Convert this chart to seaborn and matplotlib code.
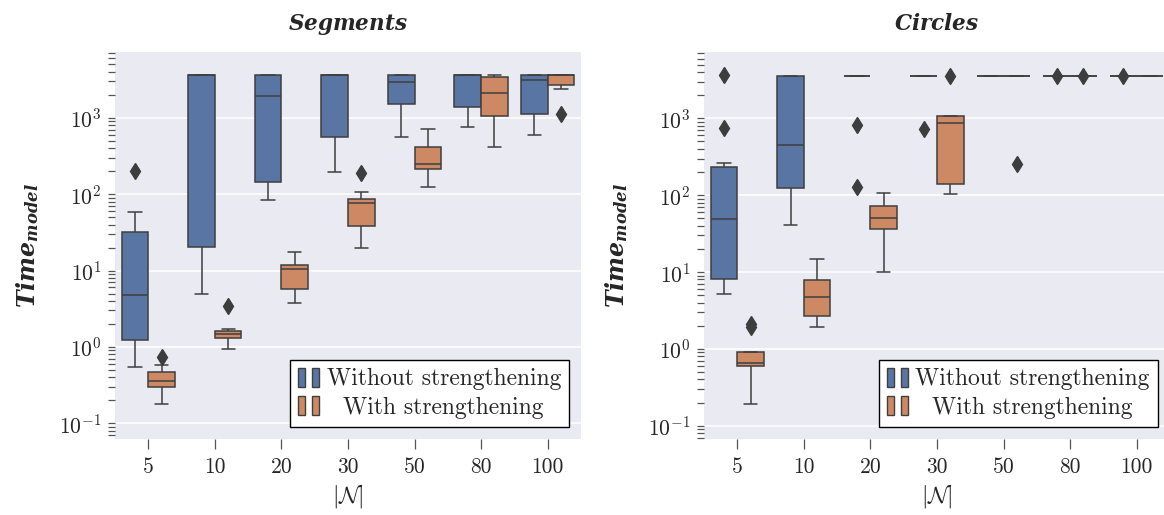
import numpy as np
import pandas as pd
import matplotlib
matplotlib.use("Agg")
import matplotlib.pyplot as plt
import seaborn as sns
from matplotlib.patches import Patch
from matplotlib.legend_handler import HandlerTuple

# ---------------------------------------------------------------- data
N_VALUES = [5, 10, 20, 30, 50, 80, 100]
HUES = ["Without strengthening", "With strengthening"]
PANELS = ["Segments", "Circles"]

# box summaries per |N|: [whisker low, Q1, median, Q3, whisker high]
seg_without = [
    [0.55, 1.23, 4.85, 31.5, 58.7],
    [5.0, 20.4, 3600, 3600, 3600],
    [83.4, 145, 1900, 3600, 3600],
    [192, 564, 3600, 3600, 3600],
    [564, 1525, 2905, 3600, 3600],
    [762, 1379, 3600, 3600, 3600],
    [599, 1106, 3110, 3600, 3600],
]
seg_without_fliers = [[202], [], [], [], [], [], []]

seg_with = [
    [0.177, 0.301, 0.357, 0.464, 0.573],
    [0.93, 1.32, 1.46, 1.61, 1.71],
    [3.78, 5.76, 10.4, 11.7, 17.5],
    [20.0, 38.1, 75.5, 86.9, 106],
    [125, 213, 247, 417, 710],
    [417, 1062, 2128, 3377, 3600],
    [2400, 2700, 3600, 3600, 3600],
]
seg_with_fliers = [[0.743], [3.45], [], [190], [], [], [1128]]

circ_without = [
    [5.12, 8.03, 49.1, 234, 261],
    [41.4, 123, 449, 3600, 3600],
    [3600, 3600, 3600, 3600, 3600],
    [3600, 3600, 3600, 3600, 3600],
    [3600, 3600, 3600, 3600, 3600],
    [3600, 3600, 3600, 3600, 3600],
    [3600, 3600, 3600, 3600, 3600],
]
circ_without_fliers = [[755, 3640], [], [128, 811], [720], [], [3610], [3610]]

circ_with = [
    [0.19, 0.598, 0.647, 0.9, 0.918],
    [1.91, 2.65, 4.73, 7.95, 14.8],
    [10.1, 36.4, 51.2, 72.6, 106],
    [105, 139, 860, 1073, 1073],
    [3600, 3600, 3600, 3600, 3600],
    [3600, 3600, 3600, 3600, 3600],
    [3600, 3600, 3600, 3600, 3600],
]
circ_with_fliers = [[1.95, 2.1], [], [], [3600], [254], [3610], []]


def box_sample(summary, fliers):
    """Sample whose boxplot statistics reproduce the given summary."""
    lo, q1, med, q3, hi = summary
    return [lo] + [q1] * 10 + [med] * 10 + [q3] * 10 + [hi] + list(fliers)


def build_frame(without, without_f, with_, with_f):
    rows = []
    for i, n in enumerate(N_VALUES):
        for v in box_sample(without[i], without_f[i]):
            rows.append((n, HUES[0], v))
        for v in box_sample(with_[i], with_f[i]):
            rows.append((n, HUES[1], v))
    return pd.DataFrame(rows, columns=["N", "strength", "time"])


frames = {
    "Segments": build_frame(seg_without, seg_without_fliers, seg_with, seg_with_fliers),
    "Circles": build_frame(circ_without, circ_without_fliers, circ_with, circ_with_fliers),
}

# ---------------------------------------------------------------- style
sns.set_theme(style="darkgrid", palette="deep")
plt.rcParams["font.family"] = ["cmr10", "DejaVu Serif"]
plt.rcParams["mathtext.fontset"] = "cm"
plt.rcParams["axes.formatter.use_mathtext"] = True
plt.rcParams["axes.unicode_minus"] = True

LINE = "#3f3f3f"
pal = sns.color_palette("deep")
c_without = sns.desaturate(pal[0], 0.75)
c_with = sns.desaturate(pal[1], 0.75)

fig = plt.figure(figsize=(11.64, 5.15), dpi=100)
axes = [fig.add_axes([0.0988, 0.1476, 0.4003, 0.7514]),
        fig.add_axes([0.6048, 0.1476, 0.4003, 0.7514])]
ylims = {"Segments": (0.0624, 7240), "Circles": (0.0672, 7300)}

legends = []
for ax, panel in zip(axes, PANELS):
    sns.boxplot(
        data=frames[panel], x="N", y="time", hue="strength",
        order=N_VALUES, hue_order=HUES, palette=[pal[0], pal[1]],
        saturation=0.75, width=0.8, linewidth=1.1, linecolor=LINE,
        flierprops=dict(marker="d", markersize=8.4,
                        markerfacecolor="#3d3d3d", markeredgecolor="#3d3d3d"),
        legend=False, ax=ax,
    )
    ax.set_yscale("log")
    ax.set_ylim(*ylims[panel])
    ax.set_xlim(-0.5, 6.5)
    ax.grid(False, axis="x")
    ax.grid(True, axis="y", which="major", color="white", linewidth=1.1)
    for s in ax.spines.values():
        s.set_visible(False)

    ax.tick_params(axis="x", which="major", bottom=True, length=7, width=0.9,
                   color="#555555", pad=6, labelsize=15.5)
    ax.tick_params(axis="y", which="both", left=True, length=4.8, width=0.9,
                   color="#555555", pad=5, labelsize=15.5)

    ax.set_title(r"$\mathbfit{" + panel + "}$", fontsize=15.5,
                 math_fontfamily="dejavuserif", pad=16)
    ax.set_ylabel(r"$\mathbfit{Time}_{\mathbfit{model}}$", fontsize=17,
                  math_fontfamily="dejavuserif", labelpad=13)
    ax.set_xlabel(r"$|\mathcal{N}|$", fontsize=17, labelpad=4)

    handles = [
        (Patch(facecolor=c_without, edgecolor=LINE, linewidth=1.0),
         Patch(facecolor=c_without, edgecolor=LINE, linewidth=1.0)),
        (Patch(facecolor=c_with, edgecolor=LINE, linewidth=1.0),
         Patch(facecolor=c_with, edgecolor=LINE, linewidth=1.0)),
    ]
    leg = ax.legend(
        handles, HUES, handler_map={tuple: HandlerTuple(ndivide=None, pad=0.3)},
        loc="lower right", frameon=True, fancybox=False, framealpha=1,
        facecolor="white", edgecolor="black", fontsize=17,
        handlelength=0.92, handleheight=0.85, handletextpad=0.3,
        labelspacing=0.25, borderpad=0.33, borderaxespad=0.52,
    )
    leg.get_frame().set_linewidth(1.0)
    legends.append(leg)

# centre the shorter legend label under the longer one
fig.canvas.draw()
renderer = fig.canvas.get_renderer()
for leg in legends:
    t0, t1 = leg.get_texts()
    w0 = t0.get_window_extent(renderer).width
    w1 = t1.get_window_extent(renderer).width
    t1.set_x((w0 - w1) / 2.0)

fig.savefig("out.png", dpi=100)
